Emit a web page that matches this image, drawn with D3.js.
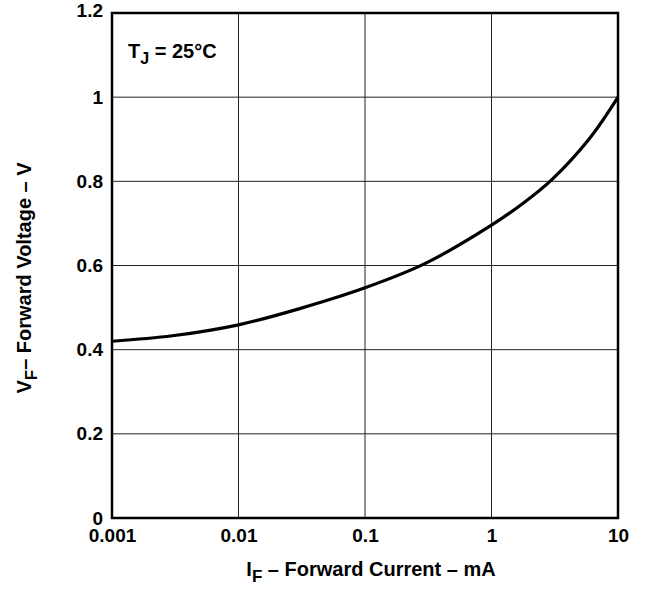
<!DOCTYPE html>
<html>
<head>
<meta charset="utf-8">
<script src="https://cdn.jsdelivr.net/npm/d3@7"></script>
<style>
  body { margin: 0; background: #fff; }
  text { font-family: "Liberation Sans", Arial, sans-serif; font-weight: bold; fill: #000; }
</style>
</head>
<body>
<div id="chart"></div>
<script>
const currentMA = [0.001, 0.003, 0.01, 0.03, 0.1, 0.3, 1, 1.8, 3, 6, 10];
const voltageV  = [0.420, 0.433, 0.459, 0.497, 0.547, 0.605, 0.696, 0.749, 0.804, 0.903, 1.0];
const xTicks = [0.001, 0.01, 0.1, 1, 10];
const xTickLabels = ["0.001", "0.01", "0.1", "1", "10"];
const yTicks = [0, 0.2, 0.4, 0.6, 0.8, 1, 1.2];
const yTickLabels = ["0", "0.2", "0.4", "0.6", "0.8", "1", "1.2"];

const width = 645, height = 590;
const margin = { top: 13, right: 27, bottom: 72, left: 112 };
const innerWidth = width - margin.left - margin.right;
const innerHeight = height - margin.top - margin.bottom;

const svg = d3.select("#chart")
  .append("svg")
  .attr("width", width)
  .attr("height", height);

const innerChart = svg.append("g")
  .attr("transform", `translate(${margin.left},${margin.top})`);

const xScale = d3.scaleLog().domain([0.001, 10]).range([0, innerWidth]);
const yScale = d3.scaleLinear().domain([0, 1.2]).range([innerHeight, 0]);

// grid
innerChart.append("g")
  .selectAll("line")
  .data(xTicks)
  .join("line")
  .attr("x1", d => xScale(d)).attr("x2", d => xScale(d))
  .attr("y1", 0).attr("y2", innerHeight)
  .attr("stroke", "#222").attr("stroke-width", 1);

innerChart.append("g")
  .selectAll("line")
  .data(yTicks)
  .join("line")
  .attr("x1", 0).attr("x2", innerWidth)
  .attr("y1", d => yScale(d)).attr("y2", d => yScale(d))
  .attr("stroke", "#222").attr("stroke-width", 1);

// axes
const bottomAxisG = innerChart.append("g")
  .attr("transform", `translate(0,${innerHeight})`)
  .call(d3.axisBottom(xScale).tickValues(xTicks).tickSize(0).tickPadding(11)
    .tickFormat((d, i) => xTickLabels[i]));

const leftAxisG = innerChart.append("g")
  .call(d3.axisLeft(yScale).tickValues(yTicks).tickSize(0).tickPadding(9)
    .tickFormat((d, i) => yTickLabels[i]));

[bottomAxisG, leftAxisG].forEach(g => {
  g.select(".domain").remove();
  g.selectAll("text")
    .style("font-family", "'Liberation Sans', Arial, sans-serif")
    .style("font-weight", "bold")
    .style("font-size", "19px");
});
leftAxisG.selectAll(".tick text").filter((d, i) => i === yTicks.length - 1).attr("dy", "0.2em");

// frame
innerChart.append("rect")
  .attr("width", innerWidth).attr("height", innerHeight)
  .attr("fill", "none").attr("stroke", "#000").attr("stroke-width", 2.5);

// curve
const line = d3.line()
  .x((d, i) => xScale(currentMA[i]))
  .y(d => yScale(d))
  .curve(d3.curveCatmullRom.alpha(0.5));

innerChart.append("path")
  .datum(voltageV)
  .attr("d", line)
  .attr("fill", "none")
  .attr("stroke", "#000")
  .attr("stroke-width", 3.2);

// annotation
const tj = innerChart.append("text")
  .attr("x", 16).attr("y", 45)
  .style("font-size", "20px");
tj.append("tspan").text("T");
tj.append("tspan").attr("dy", 6).style("font-size", "16px").text("J");
tj.append("tspan").attr("dy", -6).text(" = 25°C");

// axis labels
const xl = svg.append("text")
  .attr("text-anchor", "middle")
  .attr("x", 371)
  .attr("y", 576)
  .style("font-size", "20px");
xl.append("tspan").text("I");
xl.append("tspan").attr("dy", 6).style("font-size", "17px").text("F");
xl.append("tspan").attr("dy", -6).text(" – Forward Current – mA");

const yl = svg.append("text")
  .attr("text-anchor", "middle")
  .attr("transform", `translate(31,278) rotate(-90)`)
  .style("font-size", "20px");
yl.append("tspan").text("V");
yl.append("tspan").attr("dy", 6).style("font-size", "17px").text("F");
yl.append("tspan").attr("dy", -6).text("– Forward Voltage – V");
</script>
</body>
</html>
